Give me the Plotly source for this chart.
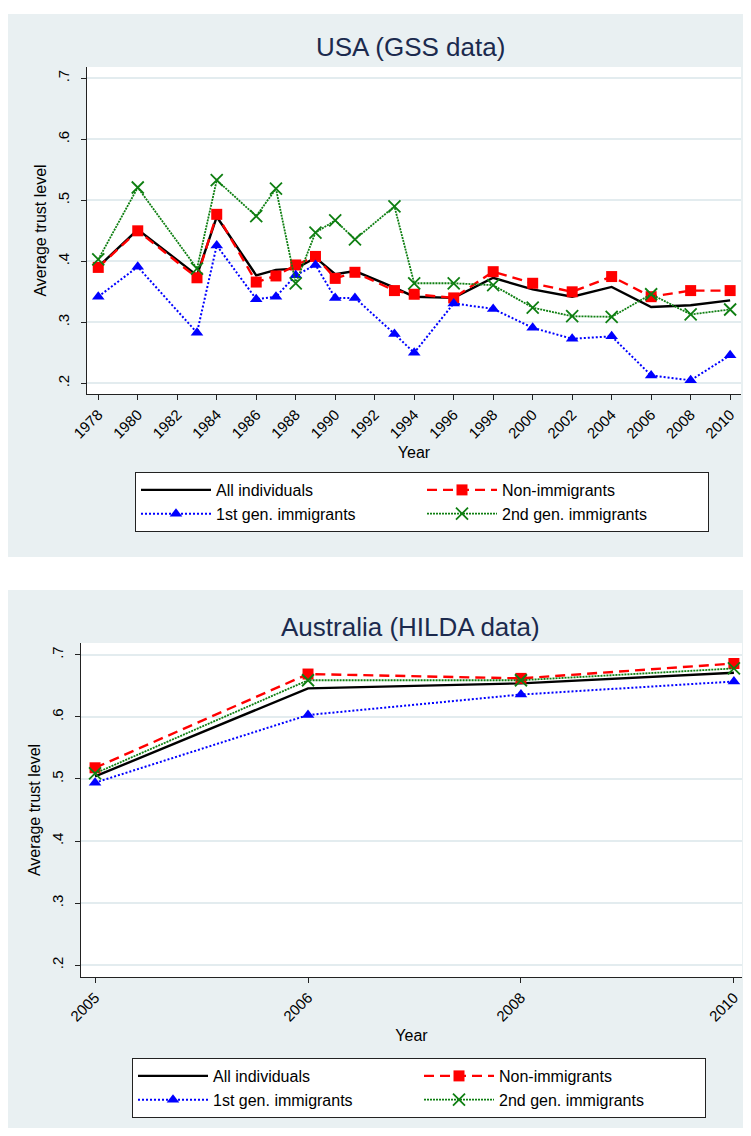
import plotly.graph_objects as go

# page is 751x1136; the html body adds an 8px margin, so the figure is 735x1120
FW, FH = 735, 1120
OFF = 8

# ---------------- data ----------------
usa_years = [1978, 1980, 1983, 1984, 1986, 1987, 1988, 1989, 1990, 1991,
             1993, 1994, 1996, 1998, 2000, 2002, 2004, 2006, 2008, 2010]
usa_all = [0.391, 0.452, 0.377, 0.473, 0.377, 0.386, 0.388, 0.406, 0.379, 0.384,
           0.357, 0.342, 0.340, 0.373, 0.354, 0.342, 0.358, 0.325, 0.328, 0.336]
usa_non = [0.390, 0.450, 0.373, 0.477, 0.366, 0.376, 0.394, 0.408, 0.372, 0.382,
           0.352, 0.346, 0.340, 0.383, 0.364, 0.350, 0.375, 0.342, 0.352, 0.352]
usa_first = [0.342, 0.391, 0.283, 0.426, 0.338, 0.342, 0.377, 0.394, 0.340, 0.340,
             0.281, 0.250, 0.331, 0.322, 0.291, 0.273, 0.277, 0.213, 0.205, 0.246]
usa_second = [0.403, 0.521, 0.388, 0.533, 0.474, 0.519, 0.364, 0.447, 0.467, 0.436,
              0.490, 0.364, 0.364, 0.361, 0.324, 0.310, 0.309, 0.346, 0.313, 0.321]

aus_years = ["2005", "2006", "2008", "2010"]
aus_all = [0.504, 0.646, 0.654, 0.671]
aus_non = [0.518, 0.669, 0.662, 0.686]
aus_first = [0.494, 0.603, 0.636, 0.657]
aus_second = [0.509, 0.659, 0.659, 0.678]

series_names = ["All individuals", "Non-immigrants", "1st gen. immigrants", "2nd gen. immigrants"]
usa_xticks = list(range(1978, 2011, 2))
y_ticks = [0.2, 0.3, 0.4, 0.5, 0.6, 0.7]
y_ticktext = [".2", ".3", ".4", ".5", ".6", ".7"]

# ---------------- styles ----------------
FONT = "Liberation Sans, Arial, sans-serif"
PANEL = "#E9F0F2"
GRID = "#E3ECEF"
TITLE_C = "#1B2A4E"
RED = "#FF0000"
BLUE = "#0000FF"
GREEN = "#0F7F12"

styles = [
    dict(mode="lines", line=dict(color="black", width=2.4)),
    dict(mode="lines+markers", line=dict(color=RED, width=2.4, dash="10px,6px"),
         marker=dict(symbol="square", size=11, color=RED)),
    dict(mode="lines+markers", line=dict(color=BLUE, width=2, dash="2px,2px"),
         marker=dict(symbol="triangle-up", size=11, color=BLUE)),
    dict(mode="lines+markers", line=dict(color=GREEN, width=1.8, dash="2px,1px"),
         marker=dict(symbol="x-thin", size=12, color=GREEN, line=dict(color=GREEN, width=1.8))),
]

fig = go.Figure()

usa_series = [usa_all, usa_non, usa_first, usa_second]
aus_series = [aus_all, aus_non, aus_first, aus_second]
for name, ys, st in zip(series_names, usa_series, styles):
    fig.add_trace(go.Scatter(x=usa_years, y=ys, name=name, xaxis="x", yaxis="y",
                             legend="legend", **st))
for name, ys, st in zip(series_names, aus_series, styles):
    fig.add_trace(go.Scatter(x=aus_years, y=ys, name=name, xaxis="x2", yaxis="y2",
                             legend="legend2", **st))


def px_x(p):
    return (p - OFF) / FW


def px_y(p):
    return 1 - (p - OFF) / FH


# plot-area pixel boxes (page coordinates)
top_box = dict(l=87, r=741, t=67, b=394)
bot_box = dict(l=81, r=742, t=643, b=977)

axis_common = dict(showline=True, linecolor="#222222", linewidth=1.2, ticks="outside",
                   ticklen=5, tickcolor="#222222", tickwidth=1.2, zeroline=False,
                   automargin=False, tickfont=dict(family=FONT, size=15, color="black"))

legend_common = dict(orientation="h", xanchor="left", yanchor="top",
                     bgcolor="white", bordercolor="#222222", borderwidth=1,
                     font=dict(family=FONT, size=16, color="black"),
                     entrywidth=201, itemwidth=70, traceorder="normal")

fig.update_layout(
    width=FW, height=FH,
    margin=dict(l=0, r=0, t=0, b=0),
    paper_bgcolor="white",
    plot_bgcolor="white",
    font=dict(family=FONT, color="black"),
    xaxis=dict(domain=[px_x(top_box["l"]), px_x(top_box["r"])], anchor="y",
               range=[1977.43, 2010.55], tickvals=usa_xticks, tickangle=-45,
               showgrid=False,
               title=dict(text="Year", font=dict(family=FONT, size=16), standoff=6),
               **axis_common),
    yaxis=dict(domain=[px_y(top_box["b"]), px_y(top_box["t"])], anchor="x",
               range=[0.1825, 0.7185], tickvals=y_ticks, ticktext=y_ticktext, tickangle=-90,
               ticklabelstandoff=6,
               showgrid=True, gridcolor=GRID, gridwidth=1.5,
               title=dict(text="Average trust level", font=dict(family=FONT, size=16), standoff=4),
               **axis_common),
    xaxis2=dict(domain=[px_x(bot_box["l"]), px_x(bot_box["r"])], anchor="y2",
                type="category", range=[-0.066, 3.038], tickangle=-45, showgrid=False,
                title=dict(text="Year", font=dict(family=FONT, size=16), standoff=6),
                **axis_common),
    yaxis2=dict(domain=[px_y(bot_box["b"]), px_y(bot_box["t"])], anchor="x2",
                range=[0.181, 0.719], tickvals=y_ticks, ticktext=y_ticktext, tickangle=-90,
                ticklabelstandoff=6,
                showgrid=True, gridcolor=GRID, gridwidth=1.5,
                title=dict(text="Average trust level", font=dict(family=FONT, size=16), standoff=4),
                **axis_common),
    legend=dict(x=px_x(135), y=px_y(472), **legend_common),
    legend2=dict(x=px_x(132), y=px_y(1058), **legend_common),
    showlegend=True,
)

shapes = [
    dict(type="rect", xref="paper", yref="paper", x0=px_x(8), x1=1, y0=px_y(557), y1=px_y(14),
         fillcolor=PANEL, line=dict(width=0), layer="below"),
    dict(type="rect", xref="paper", yref="paper", x0=px_x(6), x1=1, y0=0, y1=px_y(590),
         fillcolor=PANEL, line=dict(width=0), layer="below"),
    dict(type="rect", xref="paper", yref="paper", x0=px_x(top_box["l"]), x1=px_x(top_box["r"]),
         y0=px_y(top_box["b"]), y1=px_y(top_box["t"]),
         fillcolor="white", line=dict(width=0), layer="below"),
    dict(type="rect", xref="paper", yref="paper", x0=px_x(bot_box["l"]), x1=px_x(bot_box["r"]),
         y0=px_y(bot_box["b"]), y1=px_y(bot_box["t"]),
         fillcolor="white", line=dict(width=0), layer="below"),
]
fig.update_layout(shapes=shapes)

fig.add_annotation(text="USA (GSS data)", xref="paper", yref="paper",
                   x=px_x(410), y=px_y(47), xanchor="center", yanchor="middle",
                   showarrow=False, font=dict(family=FONT, size=26, color=TITLE_C))
fig.add_annotation(text="Australia (HILDA data)", xref="paper", yref="paper",
                   x=px_x(410), y=px_y(627), xanchor="center", yanchor="middle",
                   showarrow=False, font=dict(family=FONT, size=26, color=TITLE_C))

fig.write_html("out.html")
